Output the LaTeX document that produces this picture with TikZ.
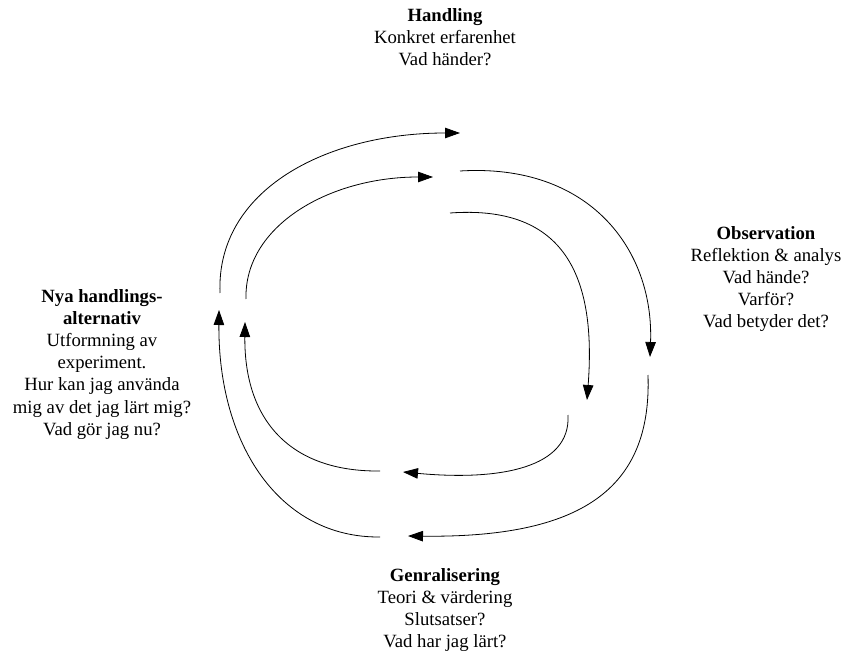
\documentclass[tikz,border=0pt]{standalone}
\usepackage{fontspec}
\setmainfont{Liberation Serif}
\usetikzlibrary{arrows.meta}
\begin{document}
\begin{tikzpicture}[x=1pt,y=-1pt,
  stage/.style={align=center, inner sep=0pt, font=\fontsize{18.7}{22.2}\selectfont},
  loopline/.style={line width=0.8pt, -{Triangle[length=15pt,width=10.5pt]}}]
\useasboundingbox (0,0) rectangle (844,655);

% the four stages of the learning cycle
\node[stage, anchor=north] (handling) at (445,8)
  {\textbf{Handling}\\Konkret erfarenhet\\Vad händer?};
\node[stage, anchor=north] (observation) at (766,226)
  {\textbf{Observation}\\Reflektion \& analys\\Vad hände?\\Varför?\\Vad betyder det?};
\node[stage, anchor=north] (nya) at (102,289)
  {\textbf{Nya handlings-}\\\textbf{alternativ}\\Utformning av\\experiment.\\Hur kan jag använda\\mig av det jag lärt mig?\\Vad gör jag nu?};
\node[stage, anchor=north] (genral) at (445,568)
  {\textbf{Genralisering}\\Teori \& värdering\\Slutsatser?\\Vad har jag lärt?};

% end points of the arcs
\coordinate (o1s) at (220,293); \coordinate (o1e) at (460,133);
\coordinate (i1s) at (246,299); \coordinate (i1e) at (433,177);
\coordinate (o2s) at (460,171); \coordinate (o2e) at (650,357);
\coordinate (i2s) at (450,213); \coordinate (i2e) at (587,400);
\coordinate (o3s) at (648,375); \coordinate (o3e) at (408,536);
\coordinate (i3s) at (568,415); \coordinate (i3e) at (403,472);
\coordinate (o4s) at (380,537); \coordinate (o4e) at (219,310);
\coordinate (i4s) at (380,471); \coordinate (i4e) at (245,322);

% outer ring
\draw[loopline] (o1s) .. controls (216,190) and (326,133) .. (o1e);
\draw[loopline] (o2s) .. controls (590,163) and (654,250) .. (o2e);
\draw[loopline] (o3s) .. controls (652,490) and (580,538) .. (o3e);
\draw[loopline] (o4s) .. controls (280,538) and (218,445) .. (o4e);

% inner ring
\draw[loopline] (i1s) .. controls (244,226) and (329,177) .. (i1e);
\draw[loopline] (i2s) .. controls (560,205) and (597,270) .. (i2e);
\draw[loopline] (i3s) .. controls (571,468) and (500,481) .. (i3e);
\draw[loopline] (i4s) .. controls (290,472) and (244,420) .. (i4e);
\end{tikzpicture}
\end{document}
